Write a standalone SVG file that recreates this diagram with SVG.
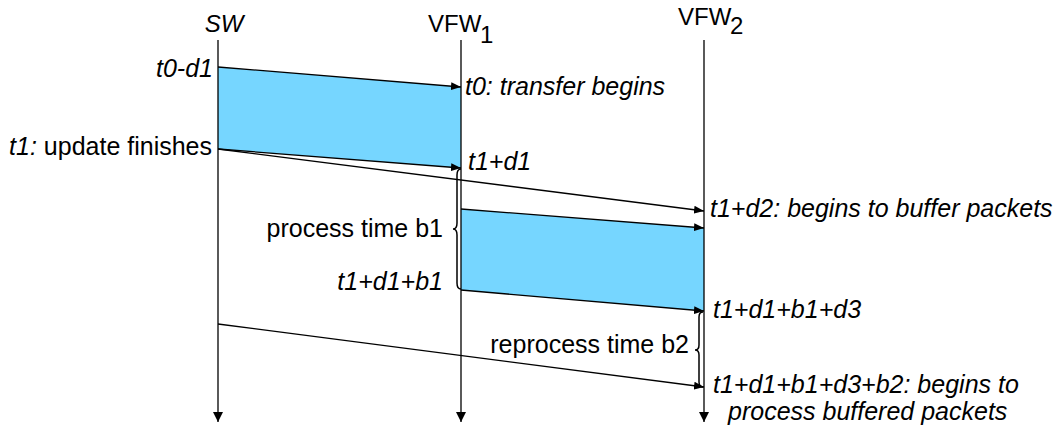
<svg xmlns="http://www.w3.org/2000/svg" width="1058" height="430" viewBox="0 0 1058 430">
  <style>
    text { font-family: "Liberation Sans", Arial, sans-serif; font-size: 25px; fill: #000; }
    .head { font-size: 24px; }
    .it { font-style: italic; }
    .end { text-anchor: end; }
    .life { stroke: #000; stroke-width: 1.3; fill: none; }
    .msg { stroke: #000; stroke-width: 1.3; fill: none; marker-end: url(#arrow); }
    .band { fill: #76D6FF; stroke: none; }
    .brace { stroke: #000; stroke-width: 1.5; fill: none; }
  </style>
  <defs>
    <marker id="arrow" viewBox="0 0 10 8" refX="10" refY="4" markerWidth="10" markerHeight="8" markerUnits="userSpaceOnUse" orient="auto">
      <path d="M0,0 L10,4 L0,8 Z" fill="#000"/>
    </marker>
    <marker id="down" viewBox="0 0 10 10" refX="10" refY="5" markerWidth="10" markerHeight="10" markerUnits="userSpaceOnUse" orient="auto">
      <path d="M0,0 L10,5 L0,10 Z" fill="#000"/>
    </marker>
  </defs>

  <!-- shaded transfer bands -->
  <g id="bands">
    <polygon class="band" points="218,67 461,87 461,168 218,149"/>
    <polygon class="band" points="461,209 704,228 704,311 461,290"/>
  </g>

  <!-- lifelines -->
  <g id="sw">
    <text class="head it" x="224" y="32" text-anchor="middle">SW</text>
    <line class="life" x1="218" y1="40" x2="218" y2="422" marker-end="url(#down)"/>
  </g>
  <g id="vfw1">
    <text class="head" x="428" y="32">VFW<tspan x="480" y="43">1</tspan></text>
    <line class="life" x1="461" y1="40" x2="461" y2="422" marker-end="url(#down)"/>
  </g>
  <g id="vfw2">
    <text class="head" x="678" y="25">VFW<tspan x="730" y="34">2</tspan></text>
    <line class="life" x1="704" y1="40" x2="704" y2="422" marker-end="url(#down)"/>
  </g>

  <!-- messages -->
  <g id="connectors">
    <line class="msg" x1="218" y1="67" x2="461" y2="87"/>
    <line class="msg" x1="218" y1="149" x2="461" y2="168"/>
    <line class="msg" x1="218" y1="149" x2="704" y2="211"/>
    <line class="msg" x1="461" y1="209" x2="704" y2="228"/>
    <line class="msg" x1="461" y1="290" x2="704" y2="311"/>
    <line class="msg" x1="218" y1="324" x2="704" y2="387"/>
  </g>

  <!-- braces -->
  <g id="brace-b1">
    <path class="brace" d="M461,169 Q457,169 457,175 L457,223 Q457,229 453,229 Q457,229 457,235 L457,283 Q457,289 461,289"/>
  </g>
  <g id="brace-b2">
    <path class="brace" d="M703,312 Q699,312 699,317 L699,345 Q699,350 695,350 Q699,350 699,355 L699,382 Q699,387 703,387"/>
  </g>

  <!-- time labels -->
  <g id="labels">
    <text class="it end" x="213" y="77">t0-d1</text>
    <text class="end" x="212" y="155"><tspan class="it">t1:</tspan> update finishes</text>
    <text class="it" x="465" y="95">t0: transfer begins</text>
    <text class="it" x="468" y="170">t1+d1</text>
    <text class="it" x="710" y="217">t1+d2: begins to buffer packets</text>
    <text class="end" x="443" y="237">process time b1</text>
    <text class="it end" x="443" y="290">t1+d1+b1</text>
    <text class="it" x="713" y="318">t1+d1+b1+d3</text>
    <text class="end" x="689" y="353">reprocess time b2</text>
    <text class="it" x="713" y="393">t1+d1+b1+d3+b2: begins to</text>
    <text class="it" x="728" y="420">process buffered packets</text>
  </g>
</svg>
